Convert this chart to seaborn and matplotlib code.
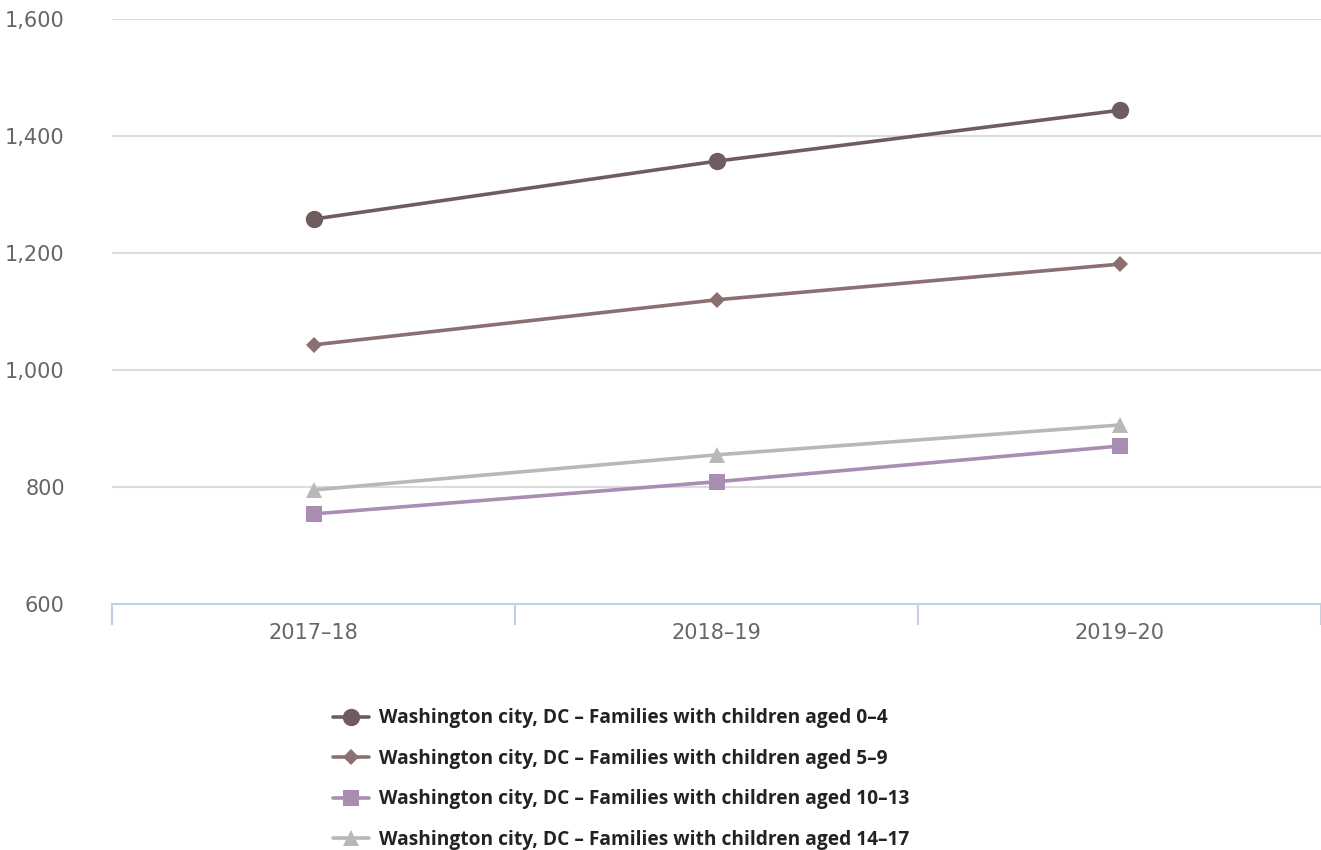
import pandas as pd
import seaborn as sns
import matplotlib.pyplot as plt
from matplotlib.ticker import FuncFormatter, FixedLocator

# Data
years = ['2017-18', '2018-19', '2019-20']
year_labels = ['2017\u201318', '2018\u201319', '2019\u201320']
series_names = [
    'Washington city, DC \u2013 Families with children aged 0\u20134',
    'Washington city, DC \u2013 Families with children aged 5\u20139',
    'Washington city, DC \u2013 Families with children aged 10\u201313',
    'Washington city, DC \u2013 Families with children aged 14\u201317',
]
aged_0_4 = [1258, 1357, 1444]
aged_5_9 = [1043, 1120, 1181]
aged_10_13 = [754, 809, 870]
aged_14_17 = [795, 855, 906]

colors = ['#6f5c5f', '#8c7071', '#a98db3', '#b8b8b8']
markers = ['o', 'D', 's', '^']
msizes = [12.5, 8.5, 11.5, 11.5]

rows = []
for name, vals in zip(series_names, [aged_0_4, aged_5_9, aged_10_13, aged_14_17]):
    for yr, v in zip(years, vals):
        rows.append({'year': yr, 'value': v, 'series': name})
df = pd.DataFrame(rows)

sns.set_style('white')
plt.rcParams['font.family'] = ['Open Sans', 'DejaVu Sans']

fig = plt.figure(figsize=(13.21, 8.5), dpi=100)
ax = fig.add_axes([0.0848, 0.2894, 0.9152, 0.6882])

for name, c, m, ms in zip(series_names, colors, markers, msizes):
    sub = df[df['series'] == name]
    sns.lineplot(data=sub, x='year', y='value', ax=ax, color=c, marker=m,
                 markersize=ms, markeredgewidth=0, linewidth=2.6, label=name,
                 sort=False)

ax.set_xlim(-0.5, 2.5)
ax.set_ylim(600, 1600)
ax.set_yticks([600, 800, 1000, 1200, 1400, 1600])
ax.yaxis.set_major_formatter(FuncFormatter(lambda v, p: f'{int(v):,}'))
ax.grid(axis='y', color='#dcdcdc', linewidth=1.5)
ax.set_axisbelow(True)
for s in ['top', 'right', 'left']:
    ax.spines[s].set_visible(False)
ax.spines['bottom'].set_color('#c3d0e0')
ax.spines['bottom'].set_linewidth(1.5)

ax.set_xticks([0, 1, 2])
ax.set_xticklabels(year_labels)
ax.xaxis.set_minor_locator(FixedLocator([-0.5, 0.5, 1.5, 2.5]))
ax.tick_params(axis='x', which='major', length=0, pad=14, labelsize=15,
               labelcolor='#666666', labelfontfamily='DejaVu Sans')
ax.tick_params(axis='x', which='minor', bottom=True, length=15, width=1.5, color='#c3d0e0')
ax.tick_params(axis='y', length=0, pad=34, labelsize=15, labelcolor='#666666',
               labelfontfamily='DejaVu Sans')
ax.set_xlabel('')
ax.set_ylabel('')

handles, labels = ax.get_legend_handles_labels()
ax.get_legend().remove()
fig.legend(handles, labels, loc='upper left', bbox_to_anchor=(0.239, 0.187),
           frameon=False, labelspacing=1.07, handlelength=1.9,
           handletextpad=0.5, labelcolor='#222222',
           prop={'weight': 'bold', 'size': 13.8})

fig.savefig('out.png', dpi=100)
